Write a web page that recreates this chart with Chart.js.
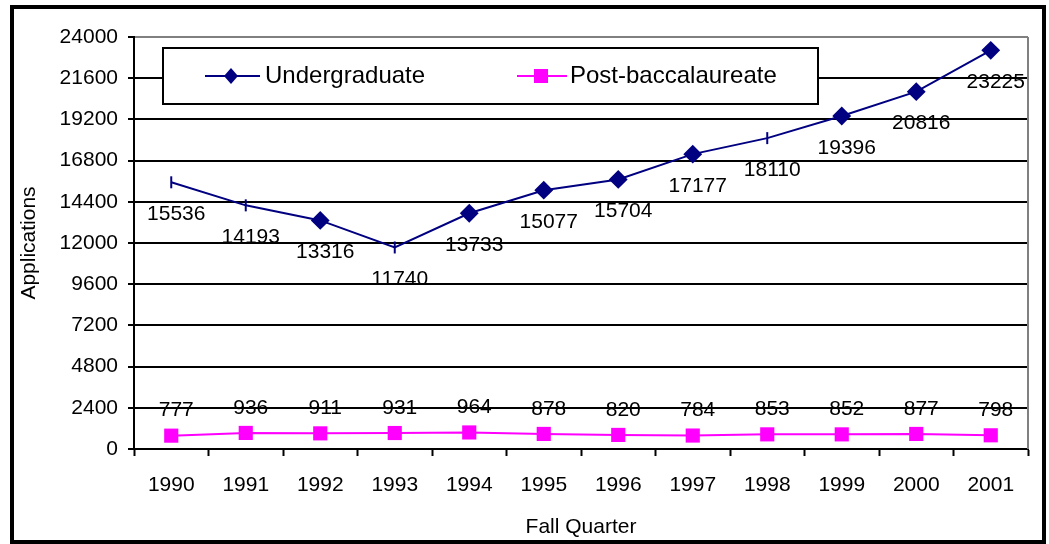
<!DOCTYPE html>
<html>
<head>
<meta charset="utf-8">
<script src="https://cdn.jsdelivr.net/npm/chart.js@4.4.1/dist/chart.umd.min.js"></script>
<style>
  body { margin: 0; background: #fff; }
  #frame {
    position: absolute; left: 10px; top: 5px;
    width: 1028px; height: 531px;
    border: 4px solid #000;
  }
</style>
</head>
<body>
<div id="frame"><canvas id="chart" width="1028" height="531"></canvas></div>
<script>
const years = ["1990", "1991", "1992", "1993", "1994", "1995", "1996", "1997", "1998", "1999", "2000", "2001"];
const undergraduate = [15536, 14193, 13316, 11740, 13733, 15077, 15704, 17177, 18110, 19396, 20816, 23225];
const postBacc = [777, 936, 911, 931, 964, 878, 820, 784, 853, 852, 877, 798];
const yTicks = [0, 2400, 4800, 7200, 9600, 12000, 14400, 16800, 19200, 21600, 24000];

// some undergraduate points show only a short vertical tick in the original
const ugStyles = ["line", "line", "rectRot", "line", "rectRot", "rectRot", "rectRot", "rectRot", "line", "rectRot", "rectRot", "rectRot"];

const NAVY = "#000080";
const MAGENTA = "#FF00FF";
const FONT = "'Liberation Sans', Arial, sans-serif";

const valueLabels = {
    id: "valueLabels",
    afterDatasetsDraw(chart) {
        const ctx = chart.ctx;
        ctx.save();
        ctx.font = "21px " + FONT;
        ctx.fillStyle = "#000";
        ctx.textAlign = "center";
        ctx.textBaseline = "middle";
        chart.data.datasets.forEach((ds, di) => {
            const meta = chart.getDatasetMeta(di);
            meta.data.forEach((pt, i) => {
                const dy = di === 0 ? 32 : -25;
                ctx.fillText(String(ds.data[i]), pt.x + 5, pt.y + dy);
            });
        });
        ctx.restore();
    }
};

const boxLegend = {
    id: "boxLegend",
    afterDraw(chart) {
        const ctx = chart.ctx;
        const a = chart.chartArea;
        // plot border on the right
        ctx.save();
        ctx.strokeStyle = "#808080";
        ctx.lineWidth = 2;
        ctx.beginPath();
        ctx.moveTo(a.right, a.top);
        ctx.lineTo(a.right, a.bottom);
        ctx.stroke();

        const x = a.left + 29, y = a.top + 11, w = 655, h = 56;
        ctx.fillStyle = "#fff";
        ctx.fillRect(x, y, w, h);
        ctx.strokeStyle = "#000";
        ctx.lineWidth = 2;
        ctx.strokeRect(x, y, w, h);

        const cy = y + h / 2;
        ctx.font = "24px " + FONT;
        ctx.textBaseline = "middle";
        ctx.textAlign = "left";

        // undergraduate
        let lx = x + 42;
        ctx.strokeStyle = NAVY;
        ctx.beginPath();
        ctx.moveTo(lx, cy);
        ctx.lineTo(lx + 55, cy);
        ctx.stroke();
        ctx.fillStyle = NAVY;
        ctx.beginPath();
        ctx.moveTo(lx + 26, cy - 8);
        ctx.lineTo(lx + 33, cy);
        ctx.lineTo(lx + 26, cy + 8);
        ctx.lineTo(lx + 19, cy);
        ctx.closePath();
        ctx.fill();
        ctx.fillStyle = "#000";
        ctx.fillText("Undergraduate", lx + 60, cy);

        // post-baccalaureate
        lx = x + 354;
        ctx.strokeStyle = MAGENTA;
        ctx.beginPath();
        ctx.moveTo(lx, cy);
        ctx.lineTo(lx + 50, cy);
        ctx.stroke();
        ctx.fillStyle = MAGENTA;
        ctx.fillRect(lx + 17, cy - 7, 14, 14);
        ctx.fillStyle = "#000";
        ctx.fillText("Post-baccalaureate", lx + 53, cy);
        ctx.restore();
    }
};

const ctx = document.getElementById("chart").getContext("2d");
new Chart(ctx, {
    type: "line",
    data: {
        labels: years,
        datasets: [
            {
                label: "Undergraduate",
                data: undergraduate,
                borderColor: NAVY,
                backgroundColor: NAVY,
                borderWidth: 2,
                tension: 0,
                pointStyle: ugStyles,
                pointRotation: ugStyles.map(s => (s === "line" ? 90 : 0)),
                pointRadius: ugStyles.map(s => (s === "line" ? 6 : 8)),
                pointBorderWidth: 2,
                pointBorderColor: NAVY,
                pointBackgroundColor: NAVY,
            },
            {
                label: "Post-baccalaureate",
                data: postBacc,
                borderColor: MAGENTA,
                backgroundColor: MAGENTA,
                borderWidth: 2,
                tension: 0,
                pointStyle: "rect",
                pointRadius: 10,
                pointBorderWidth: 0,
                pointBackgroundColor: MAGENTA,
            },
        ],
    },
    options: {
        responsive: false,
        animation: false,
        layout: { padding: { left: 3, top: 28, right: 14, bottom: 0 } },
        plugins: {
            legend: { display: false },
            tooltip: { enabled: false },
        },
        scales: {
            x: {
                offset: true,
                grid: {
                    offset: true,
                    drawOnChartArea: false,
                    drawTicks: true,
                    tickLength: 7,
                    tickColor: "#000",
                    tickWidth: 2,
                },
                border: { color: "#000", width: 2 },
                ticks: {
                    color: "#000",
                    font: { family: FONT, size: 21 },
                    padding: 17,
                    maxRotation: 0,
                },
                title: {
                    display: true,
                    text: "Fall Quarter",
                    color: "#000",
                    font: { family: FONT, size: 21 },
                    padding: 0,
                },
                afterFit: s => { s.height = 91; },
            },
            y: {
                min: 0,
                max: 24000,
                afterBuildTicks: s => { s.ticks = yTicks.map(v => ({ value: v })); },
                grid: {
                    color: c => (c.tick && c.tick.value === 24000 ? "#808080" : "#000"),
                    lineWidth: 2,
                    tickLength: 6,
                    tickColor: "#000",
                    tickWidth: 2,
                },
                border: { color: "#000", width: 2 },
                ticks: {
                    color: "#000",
                    font: { family: FONT, size: 21 },
                    padding: 10,
                    callback: v => String(v),
                },
                title: {
                    display: true,
                    text: "Applications",
                    color: "#000",
                    font: { family: FONT, size: 21 },
                    padding: 0,
                },
                afterFit: s => { s.width = 117; },
            },
        },
    },
    plugins: [valueLabels, boxLegend],
});
</script>
</body>
</html>
